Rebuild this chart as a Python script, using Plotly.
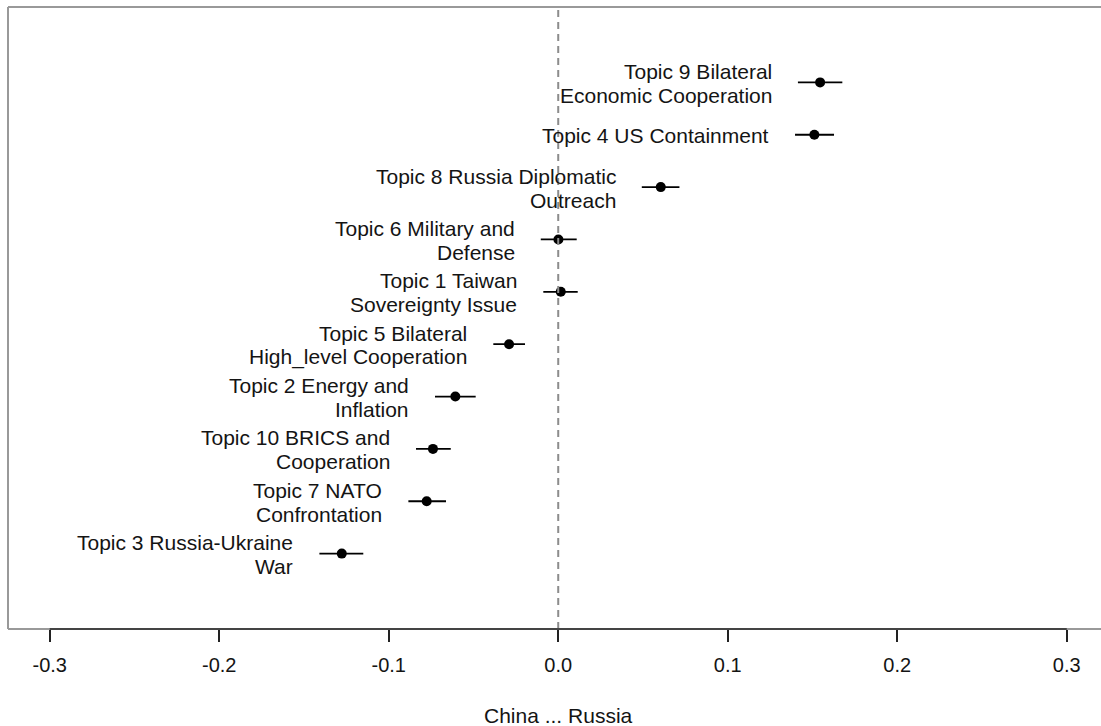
import plotly.graph_objects as go

labels = [
    "Topic 9 Bilateral\nEconomic Cooperation",
    "Topic 4 US Containment",
    "Topic 8 Russia Diplomatic\nOutreach",
    "Topic 6 Military and\nDefense",
    "Topic 1 Taiwan\nSovereignty Issue",
    "Topic 5 Bilateral\nHigh_level Cooperation",
    "Topic 2 Energy and\nInflation",
    "Topic 10 BRICS and\nCooperation",
    "Topic 7 NATO\nConfrontation",
    "Topic 3 Russia-Ukraine\nWar",
]
estimates = [0.1545, 0.1511, 0.0605, 0.0001, 0.0015, -0.0290, -0.0607, -0.0739, -0.0776, -0.1277]
ci_lower = [0.1414, 0.1397, 0.0493, -0.0103, -0.0088, -0.0383, -0.0727, -0.0839, -0.0884, -0.1409]
ci_upper = [0.1676, 0.1627, 0.0715, 0.0109, 0.0115, -0.0196, -0.0487, -0.0634, -0.0662, -0.1150]
positions = list(range(len(labels), 0, -1))
tick_vals = [-0.3, -0.2, -0.1, 0.0, 0.1, 0.2, 0.3]
tick_text = ["-0.3", "-0.2", "-0.1", "0.0", "0.1", "0.2", "0.3"]
x_title = "China ... Russia"

FONT = "Liberation Sans, Arial, Helvetica, sans-serif"
TXT = "#141414"

fig = go.Figure()
fig.add_trace(go.Scatter(
    x=estimates, y=positions, mode="markers",
    marker=dict(color="black", size=10),
    error_x=dict(type="data", symmetric=False,
                 array=[u - e for u, e in zip(ci_upper, estimates)],
                 arrayminus=[e - l for e, l in zip(estimates, ci_lower)],
                 color="black", thickness=1.8, width=0),
    showlegend=False, hoverinfo="skip",
))

annotations = []
for lab, lo, pos in zip(labels, ci_lower, positions):
    lines = lab.split("\n")
    n = len(lines)
    for i, line in enumerate(lines):
        shift = (n - 1) / 2 * 24 - i * 24
        annotations.append(dict(
            x=lo, y=pos, xref="x", yref="y", text=line, showarrow=False,
            xanchor="right", yanchor="middle", xshift=-24, yshift=shift - 1,
            font=dict(family=FONT, size=21, color=TXT),
        ))
annotations.append(dict(
    x=0, y=0, xref="x", yref="paper", text=x_title, showarrow=False,
    xanchor="center", yanchor="middle", yshift=-86,
    font=dict(family=FONT, size=21, color=TXT),
))

shapes = [
    dict(type="line", xref="x", yref="paper", x0=0, x1=0, y0=0, y1=1,
         line=dict(color="#8c8c8c", width=2, dash="7px,5px")),
    dict(type="line", xref="paper", yref="paper", x0=0, x1=1, y0=1, y1=1,
         line=dict(color="#999999", width=2)),
    dict(type="line", xref="paper", yref="paper", x0=0, x1=0, y0=0, y1=1,
         line=dict(color="#999999", width=2)),
    dict(type="line", xref="paper", yref="paper", x0=0, x1=1, y0=0, y1=0,
         line=dict(color="#999999", width=2)),
    dict(type="line", xref="x", yref="paper", x0=-0.3, x1=0.3, y0=0, y1=0,
         line=dict(color="#444444", width=2)),
]

fig.update_layout(
    width=1101, height=726,
    margin=dict(l=8, r=0, t=7, b=97),
    paper_bgcolor="white", plot_bgcolor="white",
    font=dict(family=FONT, size=20, color=TXT),
    xaxis=dict(range=[-0.3246, 0.3202], tickvals=tick_vals, ticktext=tick_text,
               ticks="outside", ticklen=12, tickwidth=1.5, tickcolor="#222222",
               ticklabelstandoff=6,
               showgrid=False, zeroline=False, showline=False,
               tickfont=dict(family=FONT, size=20, color=TXT)),
    yaxis=dict(range=[-0.44, 11.44], showticklabels=False, ticks="",
               showgrid=False, zeroline=False, showline=False),
    annotations=annotations,
    shapes=shapes,
)

fig.write_html("out.html")
